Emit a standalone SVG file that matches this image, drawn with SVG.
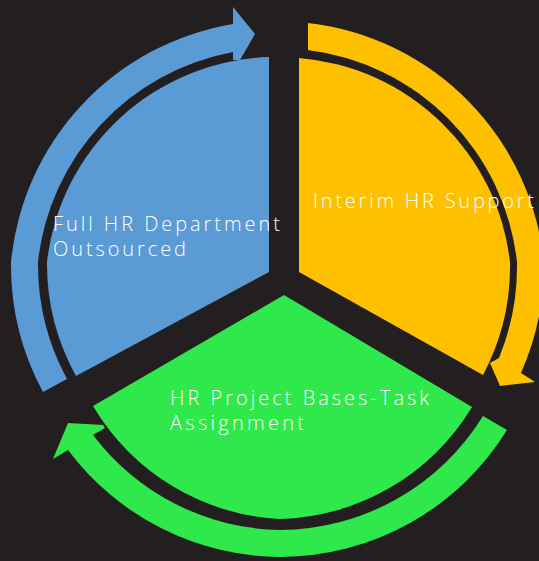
<svg xmlns="http://www.w3.org/2000/svg" width="539" height="561" viewBox="0 0 539 561">
  <style>
    .bg { fill: #231f20; }
    .blue { fill: #5b9bd5; }
    .yellow { fill: #ffc000; }
    .green { fill: #2fe84b; }
    .label { font-family: "Open Sans", "Liberation Sans", sans-serif; font-size: 20px; font-weight: 300; fill: #ffffff; }
  </style>
  <rect class="bg" x="0" y="0" width="539" height="561"/>

  <!-- curved arrows running round the wheel -->
  <g id="connectors">
    <path class="blue" d="M43,392 A267,267 0 0 1 11,262 A267,267 0 0 1 233,24 L233,7 L255,34 L240,60 L233,60 L233,52 A240,240 0 0 0 38,262 A240,240 0 0 0 67,379 Z"/>
    <path class="yellow" d="M308,23 A267,267 0 0 1 544,265 A267,267 0 0 1 521,373 L535,382 L500,386 L490,363 L499,358 A240,240 0 0 0 517,262 A240,240 0 0 0 308,50 Z"/>
    <path class="green" d="M507,430 A267,267 0 0 1 280,557 A267,267 0 0 1 68,450 L53,459 L68,423 L103,425 L105,428 L93,435 A240,240 0 0 0 280,530 A240,240 0 0 0 483,416 Z"/>
  </g>

  <g id="full-hr">
    <path class="blue" d="M269,272 L76,376 A231,231 0 0 1 47,262 A231,231 0 0 1 269,57 Z"/>
    <text class="label" x="53" y="231" textLength="227" lengthAdjust="spacing">Full HR Department</text>
    <text class="label" x="53" y="256" textLength="133" lengthAdjust="spacing">Outsourced</text>
  </g>

  <g id="interim-hr">
    <path class="yellow" d="M299,272 L299,58 A231,231 0 0 1 510,262 A231,231 0 0 1 483,375 Z"/>
    <text class="label" x="313" y="208" textLength="221" lengthAdjust="spacing">Interim HR Support</text>
  </g>

  <g id="hr-project">
    <path class="green" d="M284,295 L472,407 A231,231 0 0 1 280,519 A231,231 0 0 1 93,406 Z"/>
    <text class="label" x="170" y="405" textLength="259" lengthAdjust="spacing">HR Project Bases-Task</text>
    <text class="label" x="170" y="430" textLength="134" lengthAdjust="spacing">Assignment</text>
  </g>
</svg>
